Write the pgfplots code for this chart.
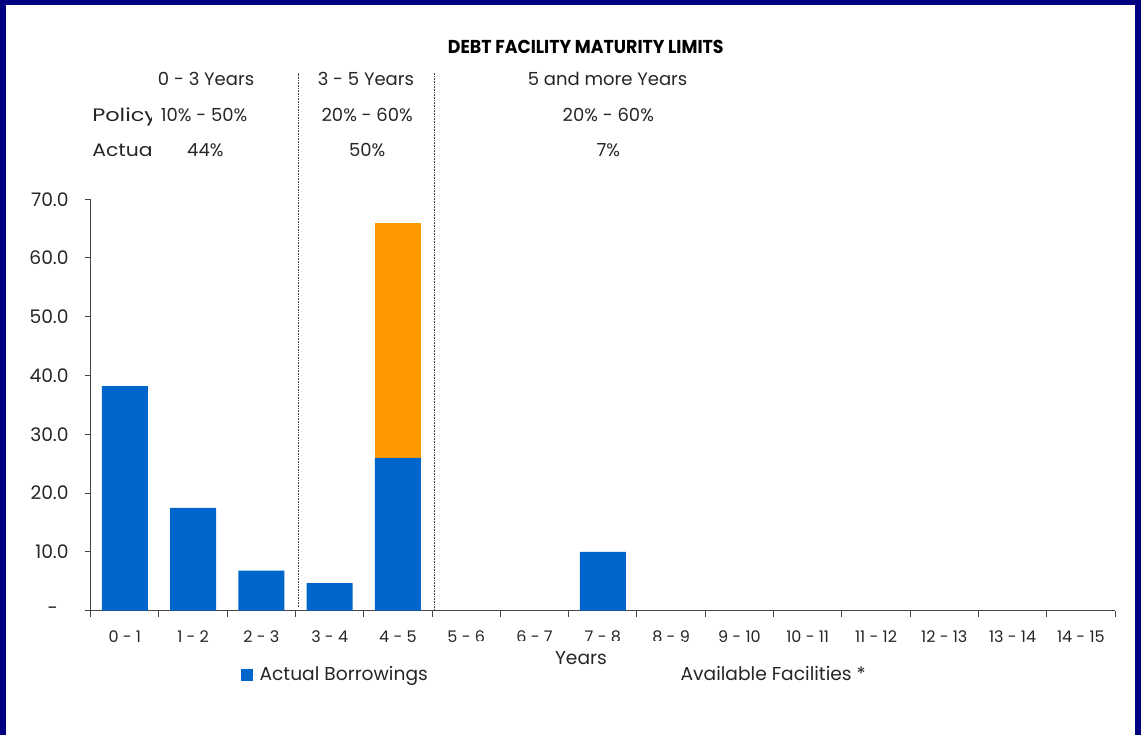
\documentclass[border=0pt]{standalone}
\usepackage{pgfplots}
\pgfplotsset{compat=1.18}
\usepackage{fontspec}
\setmainfont{Poppins}
\newfontfamily\titlefont[FakeStretch=0.93]{Poppins}
\newfontfamily\policyfont[FakeStretch=1.25]{Poppins}
\newfontfamily\actualfont[FakeStretch=1.13]{Poppins}

\definecolor{borrow}{RGB}{0,102,204}
\definecolor{facility}{RGB}{255,153,0}
\definecolor{framenavy}{RGB}{0,0,128}
\definecolor{axisgray}{RGB}{70,70,70}

\newcommand{\annot}{\fontsize{13.5}{16}\selectfont}

\begin{document}
\begin{tikzpicture}
\useasboundingbox (-68.0pt,-93.2pt) rectangle (787.7pt,458.0pt);
\fill[white] (-68.0pt,-93.2pt) rectangle (787.7pt,458.0pt);

\begin{axis}[
  at={(0pt,0pt)}, anchor=south west,
  scale only axis, width=768.2pt, height=308.6pt,
  xmin=-0.5, xmax=14.5, ymin=0, ymax=70,
  ybar stacked, bar width=34.5pt,
  axis x line*=bottom, axis y line*=left,
  axis line style={axisgray, line width=0.75pt},
  xtick={0,...,14},
  xticklabels={0 - 1,1 - 2,2 - 3,3 - 4,4 - 5,5 - 6,6 - 7,7 - 8,8 - 9,9 - 10,10 - 11,11 - 12,12 - 13,13 - 14,14 - 15},
  major x tick style={draw=none},
  minor xtick={-0.5,0.5,1.5,2.5,3.5,4.5,5.5,6.5,7.5,8.5,9.5,10.5,11.5,12.5,13.5,14.5},
  minor tick length=4.5pt,
  minor x tick style={axisgray, line width=0.75pt},
  ytick={0,10,...,70},
  yticklabels={-\hspace*{8pt},10.0,20.0,30.0,40.0,50.0,60.0,70.0},
  major tick length=4.5pt,
  major y tick style={axisgray, line width=0.75pt},
  tick align=outside,
  xticklabel style={font=\fontsize{12}{14}\selectfont, text=black!85, yshift=-7pt},
  yticklabel style={font=\fontsize{14}{16}\selectfont, text=black!85, xshift=-8.5pt},
  clip=false,
  legend columns=2,
  legend style={draw=none, fill=none, at={(0.1425,-0.1555)}, anchor=west,
    font=\fontsize{14}{16}\selectfont, text=black!85,
    /tikz/every even column/.append style={column sep=185.5pt}},
]
% Actual borrowings by maturity band ($m)
\addplot[fill=borrow, draw=none,
  legend image code/.code={\fill[borrow] (0pt,-4.7pt) rectangle (9pt,4.3pt);
                           \path (9pt,0pt) -- (12pt,0pt);}]
  coordinates {(0,38.2) (1,17.5) (2,6.8) (3,4.7) (4,26.0) (5,0) (6,0) (7,10.0)
               (8,0) (9,0) (10,0) (11,0) (12,0) (13,0) (14,0)};
\addlegendentry{Actual Borrowings}
% Undrawn available facilities
\addplot[fill=facility, draw=none, forget plot]
  coordinates {(0,0) (1,0) (2,0) (3,0) (4,39.9) (5,0) (6,0) (7,0)
               (8,0) (9,0) (10,0) (11,0) (12,0) (13,0) (14,0)};
\addlegendimage{empty legend}
\addlegendentry{Available Facilities *}

% band dividers
\draw[axisgray, line width=0.6pt, dash pattern=on 1.2pt off 0.8pt]
  (axis cs:2.54,0.7) -- (axis cs:2.54,91.5);
\draw[axisgray, line width=0.6pt, dash pattern=on 1.2pt off 0.8pt]
  (axis cs:4.53,0) -- (axis cs:4.53,91.5);

% maturity limits table
\node[anchor=base, font=\titlefont\bfseries\fontsize{14}{16}\selectfont]
  at (axis cs:6.75,94.8) {DEBT FACILITY MATURITY LIMITS};
\node[anchor=base, font=\annot, text=black!85] at (axis cs:1.19,89.3) {0 - 3 Years};
\node[anchor=base, font=\annot, text=black!85] at (axis cs:3.53,89.3) {3 - 5 Years};
\node[anchor=base, font=\annot, text=black!85] at (axis cs:7.07,89.3) {5 and more Years};
\node[anchor=base, font=\annot, text=black!85] at (axis cs:1.16,83.2) {10\% - 50\%};
\node[anchor=base, font=\annot, text=black!85] at (axis cs:3.55,83.2) {20\% - 60\%};
\node[anchor=base, font=\annot, text=black!85] at (axis cs:7.08,83.2) {20\% - 60\%};
\node[anchor=base, font=\annot, text=black!85] at (axis cs:1.18,77.3) {44\%};
\node[anchor=base, font=\annot, text=black!85] at (axis cs:3.55,77.3) {50\%};
\node[anchor=base, font=\annot, text=black!85] at (axis cs:7.08,77.3) {7\%};

\coordinate (rowlabL) at (axis cs:-0.48,83.2);
\coordinate (rowlabA) at (axis cs:-0.48,77.3);
\coordinate (cellR) at (axis cs:0.397,100);
\coordinate (cellB) at (axis cs:-0.6,70);
\coordinate (yrs) at (axis cs:6.68,-9.07);
\end{axis}

% row captions, cut at the edge of their cell
\begin{scope}
  \clip (cellB) rectangle (cellR);
  \node[anchor=base west, inner sep=0pt, font=\policyfont\fontsize{13.5}{16}\selectfont, text=black!85] at (rowlabL) {Policy};
  \node[anchor=base west, inner sep=0pt, font=\actualfont\fontsize{13.5}{16}\selectfont, text=black!85] at (rowlabA) {Actual};
\end{scope}

% axis title box (covers the lower part of the tick labels behind it)
\fill[white] ([xshift=-77pt,yshift=-8pt]yrs) rectangle ([xshift=77pt,yshift=17.3pt]yrs);
\node[anchor=base, inner sep=0pt, font=\fontsize{14}{16}\selectfont, text=black!85]
  at (yrs) {Years};

% page frame
\fill[framenavy] (-68.0pt,-93.2pt) rectangle (-63.5pt,458.0pt);
\fill[framenavy] (-68.0pt,454.5pt) rectangle (787.7pt,458.0pt);
\fill[framenavy] (783.2pt,-93.2pt) rectangle (787.7pt,458.0pt);
\end{tikzpicture}
\end{document}
